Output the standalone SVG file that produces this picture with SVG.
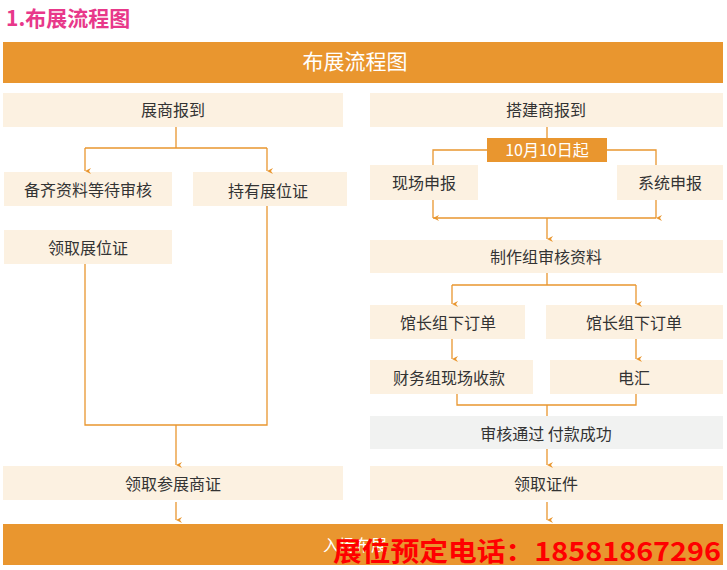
<svg xmlns="http://www.w3.org/2000/svg" width="727" height="570" viewBox="0 0 727 570">
<style>
.b{fill:#fcf1e1}.t{font-family:"Noto Sans CJK SC","Noto Sans",sans-serif;font-size:16px;fill:#333;text-anchor:middle}
.c{stroke:#e9962f;stroke-width:1.3;fill:none}
</style>
<defs><marker id="a" markerWidth="8" markerHeight="8" refX="4" refY="7" orient="auto" markerUnits="userSpaceOnUse"><path d="M1,1 L4,7 L7,1 L4,3 Z" fill="#e9962f"/></marker></defs>
<rect width="727" height="570" fill="#fff"/>
<text x="6" y="26" font-family="Noto Sans CJK SC,sans-serif" font-size="21" font-weight="bold" fill="#e8388a">1.布展流程图</text>
<g id="header"><rect x="3" y="42" width="720" height="41" fill="#e9962f"/><text x="355" y="69" class="t" style="fill:#fff;font-size:21px">布展流程图</text></g>
<g id="n1"><rect class="b" x="3" y="93" width="340" height="34"/><text class="t" x="173" y="116">展商报到</text></g>
<g id="n2"><rect class="b" x="370" y="93" width="353" height="34"/><text class="t" x="546" y="116">搭建商报到</text></g>
<g id="n3"><rect x="487" y="138" width="120" height="24" fill="#e9962f"/><text class="t" x="547" y="156" style="fill:#fff">10月10日起</text></g>
<g id="n4"><rect class="b" x="370" y="165" width="108" height="35"/><text class="t" x="424" y="189">现场申报</text></g>
<g id="n5"><rect class="b" x="617" y="165" width="106" height="35"/><text class="t" x="670" y="189">系统申报</text></g>
<g id="n6"><rect class="b" x="4" y="172" width="168" height="34"/><text class="t" x="88" y="196">备齐资料等待审核</text></g>
<g id="n7"><rect class="b" x="193" y="172" width="154" height="34"/><text class="t" x="268" y="197">持有展位证</text></g>
<g id="n8"><rect class="b" x="4" y="230" width="168" height="34"/><text class="t" x="88" y="254">领取展位证</text></g>
<g id="n9"><rect class="b" x="370" y="240" width="353" height="33"/><text class="t" x="546" y="263">制作组审核资料</text></g>
<g id="n10"><rect class="b" x="370" y="305" width="155" height="34"/><text class="t" x="448" y="329">馆长组下订单</text></g>
<g id="n11"><rect class="b" x="546" y="305" width="177" height="34"/><text class="t" x="634" y="329">馆长组下订单</text></g>
<g id="n12"><rect class="b" x="370" y="360" width="163" height="34"/><text class="t" x="449" y="384">财务组现场收款</text></g>
<g id="n13"><rect class="b" x="550" y="360" width="173" height="34"/><text class="t" x="634" y="384">电汇</text></g>
<g id="n14"><rect x="370" y="416" width="353" height="33" fill="#f1f2f1"/><text class="t" x="546" y="440">审核通过 付款成功</text></g>
<g id="n15"><rect class="b" x="3" y="466" width="340" height="34"/><text class="t" x="173" y="490">领取参展商证</text></g>
<g id="n16"><rect class="b" x="370" y="466" width="353" height="34"/><text class="t" x="546" y="490">领取证件</text></g>
<g id="footer"><rect x="3" y="524" width="720" height="41" fill="#e9962f"/><text x="355" y="551" class="t" style="fill:#fff">入场布展</text></g>
<g id="connectors" class="c">
<path d="M176,127V148M85,148H267"/><path d="M85,148V171" marker-end="url(#a)"/><path d="M267,148V171" marker-end="url(#a)"/>
<path d="M85,264V425H267V206"/><path d="M176,425V465" marker-end="url(#a)"/><path d="M176,502V520" marker-end="url(#a)"/>
<path d="M547,127V138M487,150H433V165M607,150H656V165"/>
<path d="M433,200V218" marker-end="url(#a)"/><path d="M656,200V218" marker-end="url(#a)"/>
<path d="M433,218H656"/><path d="M547,218V239" marker-end="url(#a)"/>
<path d="M547,273V285M452,285H636"/><path d="M452,285V304" marker-end="url(#a)"/><path d="M636,285V304" marker-end="url(#a)"/>
<path d="M452,339V359" marker-end="url(#a)"/><path d="M636,339V359" marker-end="url(#a)"/>
<path d="M457,394V405H636V394M547,405V416"/>
<path d="M547,449V465" marker-end="url(#a)"/><path d="M547,502V520" marker-end="url(#a)"/>
</g>
<text x="333" y="561" font-family="Noto Sans CJK SC,sans-serif" font-size="26" font-weight="bold" fill="#f00" textLength="388" lengthAdjust="spacingAndGlyphs">展位预定电话：18581867296</text>
</svg>
